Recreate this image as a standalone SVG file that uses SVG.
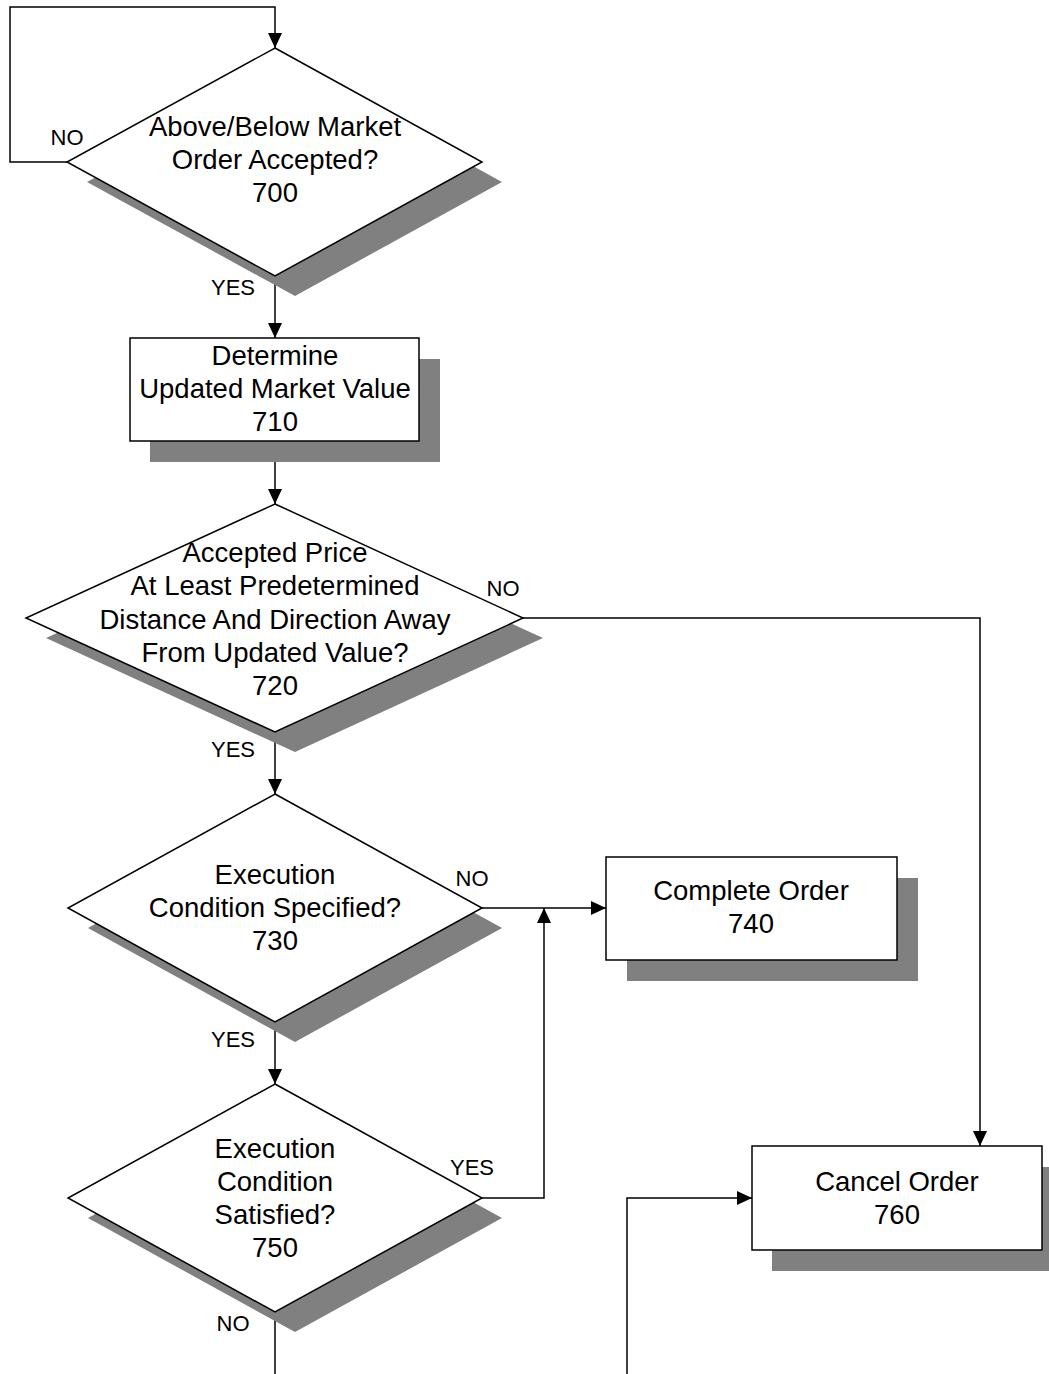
<svg xmlns="http://www.w3.org/2000/svg" width="1049" height="1374" viewBox="0 0 1049 1374">
<style>
.shadow{fill:#808080;stroke:none}
.shape{fill:#ffffff;stroke:#000000;stroke-width:1.5}
.t{font-family:"Liberation Sans",Arial,sans-serif;font-size:27.5px;fill:#000;text-anchor:middle}
.l{font-family:"Liberation Sans",Arial,sans-serif;font-size:22px;fill:#000;text-anchor:middle}
.c{fill:none;stroke:#000;stroke-width:1.5}
</style>
<defs>
<marker id="ah" markerUnits="userSpaceOnUse" markerWidth="16" markerHeight="14" refX="15" refY="7" orient="auto">
<path d="M0,0 L15,7 L0,14 Z" fill="#000"/>
</marker>
</defs>
<rect width="1049" height="1374" fill="#ffffff"/>

<g id="connectors">
<polyline class="c" points="67,162 10,162 10,7 275,7 275,48" marker-end="url(#ah)"/>
<line class="c" x1="275" y1="276" x2="275" y2="338" marker-end="url(#ah)"/>
<line class="c" x1="275" y1="441" x2="275" y2="504" marker-end="url(#ah)"/>
<polyline class="c" points="523,618 980,618 980,1146" marker-end="url(#ah)"/>
<line class="c" x1="275" y1="732" x2="275" y2="794" marker-end="url(#ah)"/>
<line class="c" x1="482" y1="908" x2="606" y2="908" marker-end="url(#ah)"/>
<line class="c" x1="275" y1="1022" x2="275" y2="1084" marker-end="url(#ah)"/>
<polyline class="c" points="482,1198 544,1198 544,908" marker-end="url(#ah)"/>
<line class="c" x1="275" y1="1312" x2="275" y2="1374"/>
<polyline class="c" points="627,1374 627,1198 752,1198" marker-end="url(#ah)"/>
<text class="l" x="67" y="145">NO</text>
<text class="l" x="233" y="295">YES</text>
<text class="l" x="503" y="596">NO</text>
<text class="l" x="233" y="757">YES</text>
<text class="l" x="472" y="886">NO</text>
<text class="l" x="233" y="1047">YES</text>
<text class="l" x="472" y="1175">YES</text>
<text class="l" x="233" y="1331">NO</text>
</g>

<g id="node700">
<polygon class="shadow" points="295,68 502,182 295,296 87,182"/>
<polygon class="shape" points="275,48 482,162 275,276 67,162"/>
<text class="t" x="275" y="136">Above/Below Market</text>
<text class="t" x="275" y="169">Order Accepted?</text>
<text class="t" x="275" y="202">700</text>
</g>

<g id="node710">
<rect class="shadow" x="150" y="359" width="290" height="103"/>
<rect class="shape" x="130" y="338" width="289" height="103"/>
<text class="t" x="275" y="365">Determine</text>
<text class="t" x="275" y="398">Updated Market Value</text>
<text class="t" x="275" y="431">710</text>
</g>

<g id="node720">
<polygon class="shadow" points="295,524 543,638 295,752 46,638"/>
<polygon class="shape" points="275,504 523,618 275,732 26,618"/>
<text class="t" x="275" y="562">Accepted Price</text>
<text class="t" x="275" y="595">At Least Predetermined</text>
<text class="t" x="275" y="629">Distance And Direction Away</text>
<text class="t" x="275" y="662">From Updated Value?</text>
<text class="t" x="275" y="695">720</text>
</g>

<g id="node730">
<polygon class="shadow" points="295,814 502,928 295,1042 88,928"/>
<polygon class="shape" points="275,794 482,908 275,1022 68,908"/>
<text class="t" x="275" y="884">Execution</text>
<text class="t" x="275" y="917">Condition Specified?</text>
<text class="t" x="275" y="950">730</text>
</g>

<g id="node740">
<rect class="shadow" x="627" y="878" width="291" height="103"/>
<rect class="shape" x="606" y="857" width="291" height="103"/>
<text class="t" x="751" y="900">Complete Order</text>
<text class="t" x="751" y="933">740</text>
</g>

<g id="node750">
<polygon class="shadow" points="295,1104 502,1218 295,1332 88,1218"/>
<polygon class="shape" points="275,1084 482,1198 275,1312 68,1198"/>
<text class="t" x="275" y="1158">Execution</text>
<text class="t" x="275" y="1191">Condition</text>
<text class="t" x="275" y="1224">Satisfied?</text>
<text class="t" x="275" y="1257">750</text>
</g>

<g id="node760">
<rect class="shadow" x="772" y="1167" width="290" height="104"/>
<rect class="shape" x="752" y="1146" width="290" height="104"/>
<text class="t" x="897" y="1191">Cancel Order</text>
<text class="t" x="897" y="1224">760</text>
</g>
</svg>
